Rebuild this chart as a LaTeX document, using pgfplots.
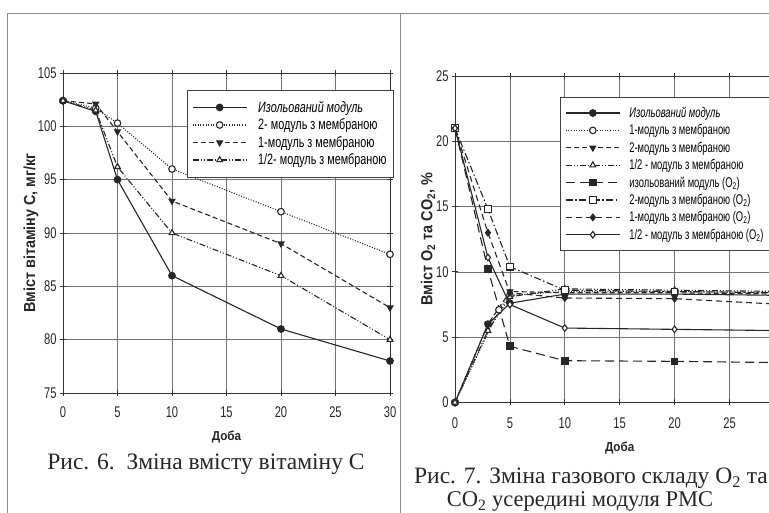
\documentclass[border=0pt]{standalone}
\usepackage{fontspec}
\setmainfont{Liberation Serif}
\newfontfamily\cond[FakeStretch=0.72]{Liberation Sans}
\newfontfamily\condl[FakeStretch=0.67]{Liberation Sans}
\newfontfamily\condy[FakeStretch=0.9]{Liberation Sans}
\usepackage{pgfplots}
\pgfplotsset{compat=1.18}
\pgfplotsset{
 myaxis/.style={
  scale only axis, anchor=south west,
  xmin=0, xmax=30, xtick={0,5,...,30},
  grid=major, major grid style={black!55, line width=0.7pt},
  axis line style={black!80, line width=0.8pt},
  tick style={black!80, line width=0.8pt},
  major tick length=6pt, tick align=center,
  /pgf/number format/assume math mode=true,
  tick label style={font=\cond\fontsize{15.5}{17}\selectfont, text=black!85},
  xticklabel style={anchor=center},
  label style={font=\condy\bfseries\fontsize{16}{18}\selectfont, text=black!85},
  every axis plot/.append style={line width=1.1pt, black!85, mark size=3.3pt},
  legend cell align=left,
  legend image code/.code={\draw[mark repeat=2,mark phase=2] plot coordinates {(0pt,0pt) (27pt,0pt) (54pt,0pt)};},
 },
 fc/.style={mark=*, mark options={solid, fill=black!85}},
 oc/.style={mark=*, mark options={solid, fill=white}},
 ftd/.style={mark=triangle*, mark options={solid, rotate=180, fill=black!85}},
 ot/.style={mark=triangle*, mark options={solid, fill=white}},
 fs/.style={mark=square*, mark options={solid, fill=black!85}},
 os/.style={mark=square*, mark options={solid, fill=white}},
 fd/.style={mark=diamond*, mark options={solid, fill=black!85}},
 od/.style={mark=diamond*, mark options={solid, fill=white}},
}
\begin{document}
\begin{tikzpicture}[x=1pt,y=1pt]
\path[use as bounding box] (0,0) rectangle (769,513);
\clip (0,0) rectangle (769,513);
\draw[black!45, line width=0.8pt] (7,0) -- (7,500) -- (769,500);
\draw[black!45, line width=0.8pt] (400,0) -- (400,500);

\begin{scope}
\clip (0,0) rectangle (398,513);
\begin{axis}[myaxis,
  at={(63pt,120pt)}, width=327pt, height=320pt,
  ymin=75, ymax=105, ytick={75,80,...,105},
  xticklabel style={yshift=-16pt},
  xlabel={Доба}, ylabel={Вміст вітаміну С, мг/кг},
  xlabel style={at={(axis description cs:0.5,-0.1375)}, anchor=center, font=\condy\bfseries\fontsize{13}{15}\selectfont},
  ylabel style={at={(axis description cs:-0.098,0.5)}, anchor=center, rotate=0},
  legend style={at={(0.379,0.947)}, anchor=north west, draw=black!75, fill=white,
    font=\cond\fontsize{15}{17}\selectfont, row sep=1pt, inner xsep=5pt, inner ysep=9pt,
    /tikz/every odd column/.append style={column sep=9pt}},
]
\addplot[fc] coordinates {(0,102.4)(3,101.4)(5,95)(10,86)(20,81)(30,78)};
\addlegendentry{\itshape Изольований модуль}
\addplot[oc, dash pattern=on 1pt off 1.6pt] coordinates {(0,102.4)(3,101.7)(5,100.3)(10,96)(20,92)(30,88)};
\addlegendentry{2- модуль з мембраною}
\addplot[ftd, dash pattern=on 5pt off 3pt] coordinates {(0,102.4)(3,102.1)(5,99.5)(10,93)(20,89)(30,83)};
\addlegendentry{1-модуль з мембраною}
\addplot[ot, dash pattern=on 6pt off 2pt on 1pt off 2pt on 1pt off 2pt] coordinates {(0,102.4)(3,101.5)(5,96.2)(10,90)(20,86)(30,80)};
\addlegendentry{1/2- модуль з мембраною}
\end{axis}
\end{scope}

\begin{axis}[myaxis,
  at={(455pt,110.5pt)}, width=329.4pt, height=326.5pt,
  ymin=0, ymax=25, ytick={0,5,...,25}, xtick={0,5,...,25},
  xticklabel style={yshift=-18pt},
  xlabel={Доба}, ylabel={Вміст O\textsubscript{2} та CO\textsubscript{2}, \%},
  xlabel style={at={(axis description cs:0.5,-0.139)}, anchor=center, font=\condy\bfseries\fontsize{13}{15}\selectfont},
  ylabel style={at={(axis description cs:-0.082,0.5)}, anchor=center, rotate=0},
  legend style={at={(0.319,0.936)}, anchor=north west, draw=black!75, fill=white,
    font=\condl\fontsize{14}{16}\selectfont, row sep=1.6pt, inner xsep=5pt, inner ysep=8pt,
    /tikz/every odd column/.append style={column sep=7pt}},
]
\addplot[fc] coordinates {(0,0)(3,6.0)(5,7.6)(10,8.3)(20,8.3)(30,8.2)};
\addlegendentry{\itshape Изольований модуль}
\addplot[oc, dash pattern=on 1pt off 1.6pt] coordinates {(0,0)(4,7.1)(5,8.2)(10,8.5)(20,8.5)(30,8.4)};
\addlegendentry{1-модуль з мембраною}
\addplot[ftd, dash pattern=on 5pt off 3pt] coordinates {(0,0)(3,6.0)(5,8.5)(10,8.4)(20,8.4)(30,8.3)};
\addlegendentry{2-модуль з мембраною}
\addplot[ot, dash pattern=on 6pt off 2pt on 1pt off 2pt on 1pt off 2pt] coordinates {(0,0)(3,5.5)(5,8.1)(10,8.7)(20,8.6)(30,8.5)};
\addlegendentry{1/2 - модуль з мембраною}
\addplot[fs, dash pattern=on 9pt off 5pt] coordinates {(0,21)(3,10.2)(5,4.3)(10,3.2)(20,3.15)(30,3.05)};
\addlegendentry{изольований модуль (O\textsubscript{2})}
\addplot[os, dash pattern=on 7pt off 2.5pt on 1.5pt off 2.5pt] coordinates {(0,21)(3,14.8)(5,10.4)(10,8.6)(20,8.5)(30,8.4)};
\addlegendentry{2-модуль з мембраною (O\textsubscript{2})}
\addplot[fd, dash pattern=on 6pt off 4pt] coordinates {(0,21)(3,13.0)(5,8.4)(10,8.0)(20,7.95)(30,7.5)};
\addlegendentry{1-модуль з мембраною (O\textsubscript{2})}
\addplot[od] coordinates {(0,21)(3,11.1)(5,7.5)(10,5.7)(20,5.6)(30,5.5)};
\addlegendentry{1/2 - модуль з мембраною (O\textsubscript{2})}
\end{axis}

\node[anchor=base, font=\fontsize{23.5}{27}\selectfont, text=black!85] at (206,43) {Рис. 6.\ \ Зміна вмісту вітаміну С};
\node[anchor=base, font=\fontsize{23.5}{27}\selectfont, text=black!85] at (591,29) {Рис. 7. Зміна газового складу O\textsubscript{2} та};
\node[anchor=base, font=\fontsize{22.5}{27}\selectfont, text=black!85] at (580,6) {CO\textsubscript{2} усередині модуля РМС};
\end{tikzpicture}
\end{document}
